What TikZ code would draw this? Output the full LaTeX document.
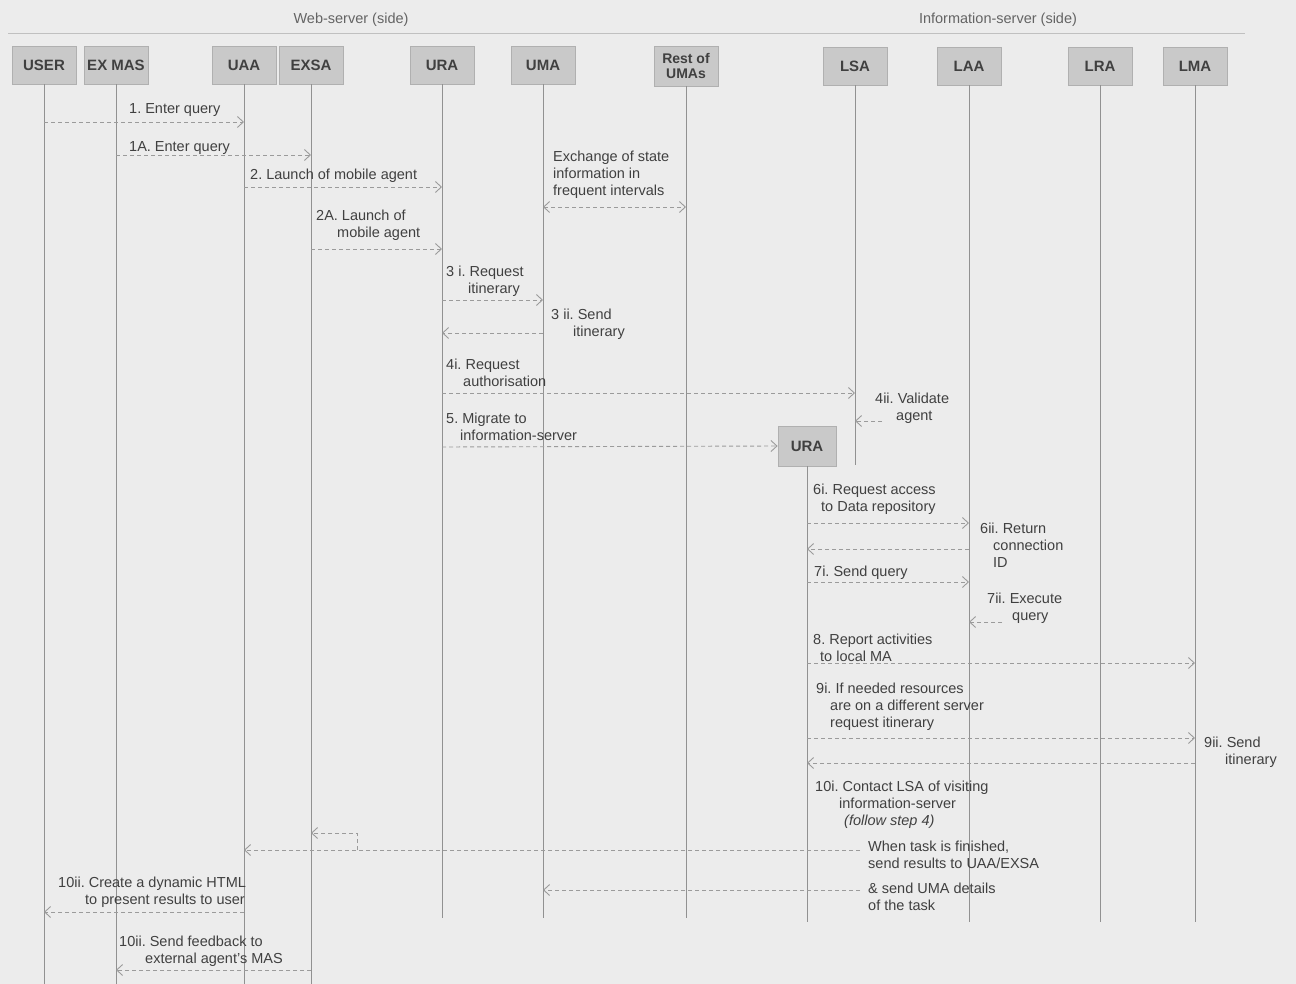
\documentclass[tikz,border=0pt]{standalone}
\usepackage{fontspec}
\setmainfont{Liberation Sans}
\usetikzlibrary{arrows.meta}
\frenchspacing
\definecolor{bg}{RGB}{236,236,236}
\definecolor{txt}{RGB}{64,64,64}
\definecolor{ttl}{RGB}{100,100,100}
\definecolor{lifec}{RGB}{145,145,145}
\definecolor{msgc}{RGB}{155,155,155}
\definecolor{boxfill}{RGB}{201,201,201}
\definecolor{boxline}{RGB}{176,176,176}
\newcommand{\mfont}{\frenchspacing\fontsize{14.5}{17}\selectfont}
\newcommand{\bfont}{\fontsize{15}{16}\selectfont\bfseries}
\newcommand{\rfont}{\fontsize{14}{15}\selectfont\bfseries}
\begin{document}
\begin{tikzpicture}[x=1pt,y=-1pt,
 actor/.style={draw=boxline, fill=boxfill, minimum width=64pt, minimum height=38pt, inner sep=1pt, font=\bfont, text=txt, align=center, line width=0.8pt},
 life/.style={draw=lifec, line width=0.9pt},
 msg/.style={draw=msgc, line width=0.9pt, dash pattern=on 4pt off 3pt, -{Straight Barb[length=6pt,width=11pt]}},
 msgboth/.style={msg, {Straight Barb[length=6pt,width=11pt]}-{Straight Barb[length=6pt,width=11pt]}},
 lbl/.style={anchor=north west, inner sep=0pt, font=\mfont, text=txt, align=left},
 title/.style={inner sep=0pt, font=\mfont, text=ttl},
]
\fill[bg] (0,0) rectangle (1296,984);
\useasboundingbox (0,0) rectangle (1296,984);

% titles
\node[title] (tweb) at (351,20) {Web-server (side)};
\node[title] (tinf) at (998,20) {Information-server (side)};
\coordinate (hl1) at (8,33);
\coordinate (hl2) at (1245,33);
\draw[draw=boxline!80, line width=0.6pt] (hl1) -- (hl2);

% actors
\node[actor] (USER)  at (44,65)  {USER};
\node[actor] (EXMAS) at (116,65) {EX MAS};
\node[actor] (UAA)   at (244,65) {UAA};
\node[actor] (EXSA)  at (311,65) {EXSA};
\node[actor] (URA)   at (442,65) {URA};
\node[actor] (UMA)   at (543,65) {UMA};
\node[actor, font=\rfont, minimum height=40pt] (REST) at (686,66) {Rest of\\UMAs};
\node[actor] (LSA)   at (855,66) {LSA};
\node[actor] (LAA)   at (969,66) {LAA};
\node[actor] (LRA)   at (1100,66) {LRA};
\node[actor] (LMA)   at (1195,66) {LMA};
\node[actor, minimum width=58pt, minimum height=40pt] (URA2) at (807,446) {URA};

% lifelines
\draw[life] (USER.south)  -- (USER |- 0,984);
\draw[life] (EXMAS.south) -- (EXMAS |- 0,984);
\draw[life] (UAA.south)   -- (UAA |- 0,984);
\draw[life] (EXSA.south)  -- (EXSA |- 0,984);
\draw[life] (URA.south)   -- (URA |- 0,918);
\draw[life] (UMA.south)   -- (UMA |- 0,918);
\draw[life] (REST.south)  -- (REST |- 0,918);
\draw[life] (LSA.south)   -- (LSA |- 0,465);
\draw[life] (LAA.south)   -- (LAA |- 0,922);
\draw[life] (LRA.south)   -- (LRA |- 0,922);
\draw[life] (LMA.south)   -- (LMA |- 0,922);
\draw[life] (URA2.south)  -- (URA2 |- 0,922);

% messages
\draw[msg] (USER |- 0,122) -- (UAA |- 0,122);
\draw[msg] (EXMAS |- 0,155) -- (EXSA |- 0,155);
\draw[msg] (UAA |- 0,187) -- (URA |- 0,187);
\draw[msgboth] (UMA |- 0,207) -- (REST |- 0,207);
\draw[msg] (EXSA |- 0,249) -- (URA |- 0,249);
\draw[msg] (URA |- 0,300) -- (UMA |- 0,300);
\draw[msg] (UMA |- 0,333) -- (URA |- 0,333);
\draw[msg] (URA |- 0,393) -- (LSA |- 0,393);
\coordinate (v4) at (882,421);
\draw[msg] (v4) -- (LSA |- v4);
\draw[msg] (URA |- 0,447) -- (URA2.west);
\draw[msg] (URA2 |- 0,523) -- (LAA |- 0,523);
\draw[msg] (LAA |- 0,549) -- (URA2 |- 0,549);
\draw[msg] (URA2 |- 0,582) -- (LAA |- 0,582);
\coordinate (v7) at (1002,622);
\draw[msg] (v7) -- (LAA |- v7);
\draw[msg] (URA2 |- 0,663) -- (LMA |- 0,663);
\draw[msg] (URA2 |- 0,738) -- (LMA |- 0,738);
\draw[msg] (LMA |- 0,763) -- (URA2 |- 0,763);
\coordinate (r1) at (860,850);
\coordinate (fork) at (357,850);
\draw[msg] (r1) -- (UAA |- r1);
\draw[msg] (fork) |- (EXSA |- 0,833);
\coordinate (r2) at (860,890);
\draw[msg] (r2) -- (UMA |- r2);
\draw[msg] (UAA |- 0,912) -- (USER |- 0,912);
\draw[msg] (EXSA |- 0,970) -- (EXMAS |- 0,970);

% labels
\node[lbl] (l1)  at (129,101) {\strut 1. Enter query};
\node[lbl] (l1a) at (129,139) {\strut 1A. Enter query};
\node[lbl] (l2)  at (250,167) {\strut 2. Launch of mobile agent};
\node[lbl] (l2a) at (316,208) {\strut 2A. Launch of\\\hspace*{21pt}mobile agent};
\node[lbl] (lx)  at (553,149) {\strut Exchange of state\\information in\\frequent intervals};
\node[lbl] (l3i) at (446,264) {\strut 3 i. Request\\\hspace*{22pt}itinerary};
\node[lbl] (l3ii) at (551,307) {\strut 3 ii. Send\\\hspace*{22pt}itinerary};
\node[lbl] (l4i) at (446,357) {\strut 4i. Request\\\hspace*{17pt}authorisation};
\node[lbl] (l4ii) at (875,391) {\strut 4ii. Validate\\\hspace*{21pt}agent};
\node[lbl] (l5)  at (446,411) {\strut 5. Migrate to\\\hspace*{14pt}information-server};
\node[lbl] (l6i) at (813,482) {\strut 6i. Request access\\\hspace*{8pt}to Data repository};
\node[lbl] (l6ii) at (980,521) {\strut 6ii. Return\\\hspace*{13pt}connection\\\hspace*{13pt}ID};
\node[lbl] (l7i) at (814,564) {\strut 7i. Send query};
\node[lbl] (l7ii) at (987,591) {\strut 7ii. Execute\\\hspace*{25pt}query};
\node[lbl] (l8)  at (813,632) {\strut 8. Report activities\\\hspace*{7pt}to local MA};
\node[lbl] (l9i) at (816,681) {\strut 9i. If needed resources\\\hspace*{14pt}are on a different server\\\hspace*{14pt}request itinerary};
\node[lbl] (l9ii) at (1204,735) {\strut 9ii. Send\\\hspace*{21pt}itinerary};
\node[lbl] (l10i) at (815,779) {\strut 10i. Contact LSA of visiting\\\hspace*{24pt}information-server\\\hspace*{29pt}\textit{(follow step 4)}};
\node[lbl] (lwhen) at (868,839) {\strut When task is finished,\\send results to UAA/EXSA};
\node[lbl] (lamp) at (868,881) {\strut \& send UMA details\\of the task};
\node[lbl] (l10a) at (58,875) {\strut 10ii. Create a dynamic HTML\\\hspace*{27pt}to present results to user};
\node[lbl] (l10b) at (119,934) {\strut 10ii. Send feedback to\\\hspace*{26pt}external agent's MAS};
\end{tikzpicture}
\end{document}
